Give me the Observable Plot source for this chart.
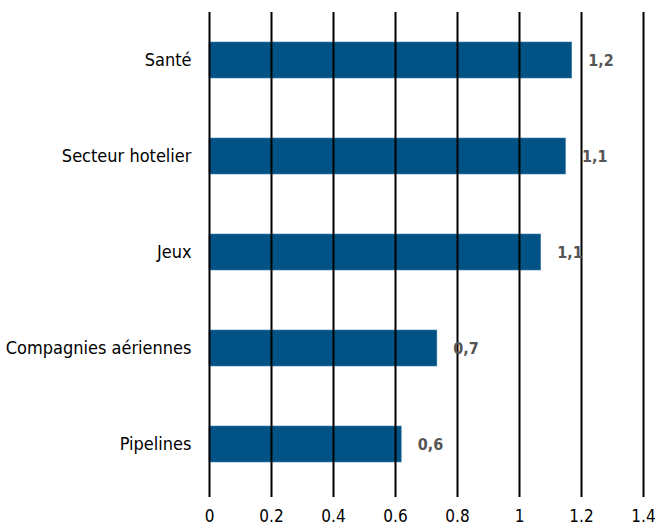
<!DOCTYPE html>
<html>
<head>
<meta charset="utf-8">
<script src="https://cdn.jsdelivr.net/npm/d3@7"></script>
<script src="https://cdn.jsdelivr.net/npm/@observablehq/plot@0.6"></script>
<style>
  body { margin: 0; background: #fff; }
</style>
</head>
<body>
<div id="chart"></div>
<script>
const categories = ["Santé", "Secteur hotelier", "Jeux", "Compagnies aériennes", "Pipelines"];
const values = [1.17, 1.15, 1.07, 0.735, 0.62];
const valueLabels = ["1,2", "1,1", "1,1", "0,7", "0,6"];
const xTicks = [0, 0.2, 0.4, 0.6, 0.8, 1, 1.2, 1.4];

const data = categories.map((c, i) => ({category: c, value: values[i], label: valueLabels[i]}));

const chart = Plot.plot({
  width: 656,
  height: 526,
  marginLeft: 209,
  marginRight: 13,
  marginTop: 12,
  marginBottom: 29,
  style: {fontFamily: "'Liberation Sans Narrow', 'Arial Narrow', 'DejaVu Sans Condensed', sans-serif", fontSize: "17px", color: "#000", background: "#fff"},
  x: {domain: [0, 1.4], ticks: xTicks, tickSize: 0, tickPadding: 12, tickFormat: d3.format("~g"), label: null},
  y: {domain: categories, range: [12, 492], paddingInner: 0.625, paddingOuter: 0.3125, label: null, axis: null},
  marks: [
    Plot.barX(data, {x: "value", y: "category", fill: "#005384", stroke: "#3f7fa8", strokeWidth: 0.6}),
    Plot.ruleX(xTicks, {stroke: "#000", strokeWidth: 2}),
    Plot.axisY({tickSize: 0, tickPadding: 18, fontSize: 18, label: null}),
    Plot.text(data, {x: "value", y: "category", text: "label", dx: 16, textAnchor: "start", fontWeight: "bold", fill: "#555", fontSize: 16})
  ]
});
document.getElementById("chart").append(chart);
</script>
</body>
</html>
